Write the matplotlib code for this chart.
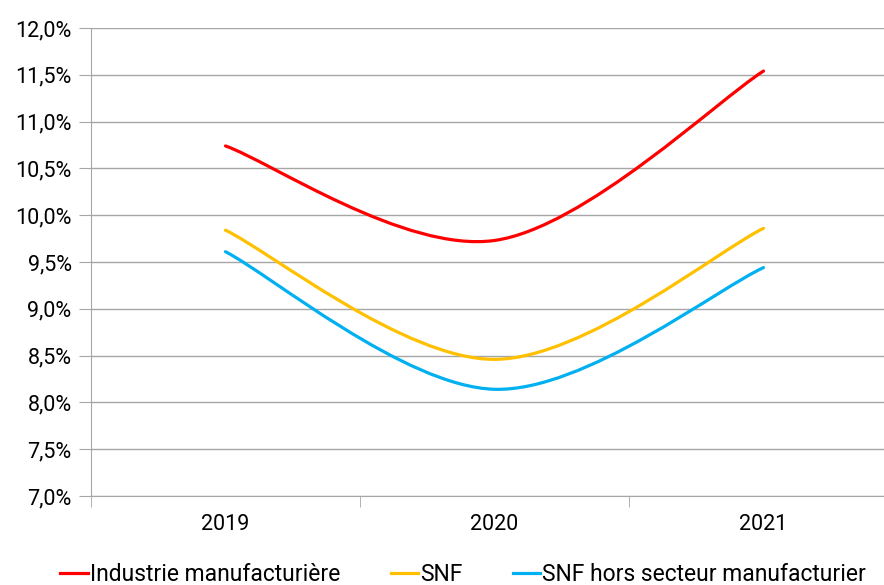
import matplotlib
matplotlib.use("Agg")
import matplotlib.pyplot as plt
from matplotlib.path import Path
from matplotlib.patches import PathPatch
from matplotlib.lines import Line2D
import numpy as np

plt.rcParams['font.family'] = ['Roboto', 'DejaVu Sans']

years = ["2019", "2020", "2021"]
industrie = [10.74, 9.73, 11.54]
snf = [9.84, 8.46, 9.86]
snf_hors = [9.61, 8.14, 9.44]

series_names = ["Industrie manufacturière", "SNF", "SNF hors secteur manufacturier"]
colors = ["#FF0000", "#FFC000", "#00B0F0"]
y_ticks = [7.0 + 0.5 * i for i in range(11)]


def smooth_path(xs, ys):
    """Cubic Bezier path through points, spreadsheet-style smoothing."""
    pts = np.column_stack([xs, ys]).astype(float)
    n = len(pts)
    ext = np.vstack([pts[0], pts, pts[-1]])
    verts = [tuple(pts[0])]
    codes = [Path.MOVETO]
    for i in range(n - 1):
        p0, p1, p2, p3 = ext[i], ext[i + 1], ext[i + 2], ext[i + 3]
        c1 = p1 + (p2 - p0) / 6.0
        c2 = p2 - (p3 - p1) / 6.0
        verts += [tuple(c1), tuple(c2), tuple(p2)]
        codes += [Path.CURVE4] * 3
    return Path(verts, codes)


fig = plt.figure(figsize=(8.84, 5.85), dpi=100)
ax = fig.add_axes([91 / 884, 1 - 496 / 585, (898 - 91) / 884, (496 - 28) / 585])

x = np.arange(len(years))
for vals, col in zip([industrie, snf, snf_hors], colors):
    patch = PathPatch(smooth_path(x, vals), facecolor="none", edgecolor=col,
                      lw=2.3, capstyle="round", zorder=3)
    ax.add_patch(patch)

ax.set_xlim(-0.5, 2.5)
ax.set_ylim(7.0, 12.0)
ax.set_yticks(y_ticks)
ax.set_yticklabels([f"{v:.1f}%".replace(".", ",") for v in y_ticks], fontsize=15.5)
ax.yaxis.grid(True, color="#a6a6a6", lw=1.0)
ax.set_axisbelow(True)

ax.set_xticks(x)
ax.set_xticklabels(years, fontsize=15.5)
ax.set_xticks([-0.5, 0.5, 1.5, 2.5], minor=True)
ax.tick_params(axis="x", which="major", length=0, pad=13)
ax.tick_params(axis="x", which="minor", length=8, color="#a6a6a6")
ax.tick_params(axis="y", length=9, color="#a6a6a6", pad=5)

for side in ["top", "right"]:
    ax.spines[side].set_visible(False)
for side in ["left", "bottom"]:
    ax.spines[side].set_color("#a6a6a6")

handles = [Line2D([0], [0], color=c, lw=2.3) for c in colors]
fig.legend(handles, series_names, loc="center", bbox_to_anchor=(0.524, 0.018),
           ncol=3, frameon=False, fontsize=16.5, handlelength=1.2,
           handletextpad=0.08, columnspacing=2.2)

fig.savefig("out.png", dpi=100)
